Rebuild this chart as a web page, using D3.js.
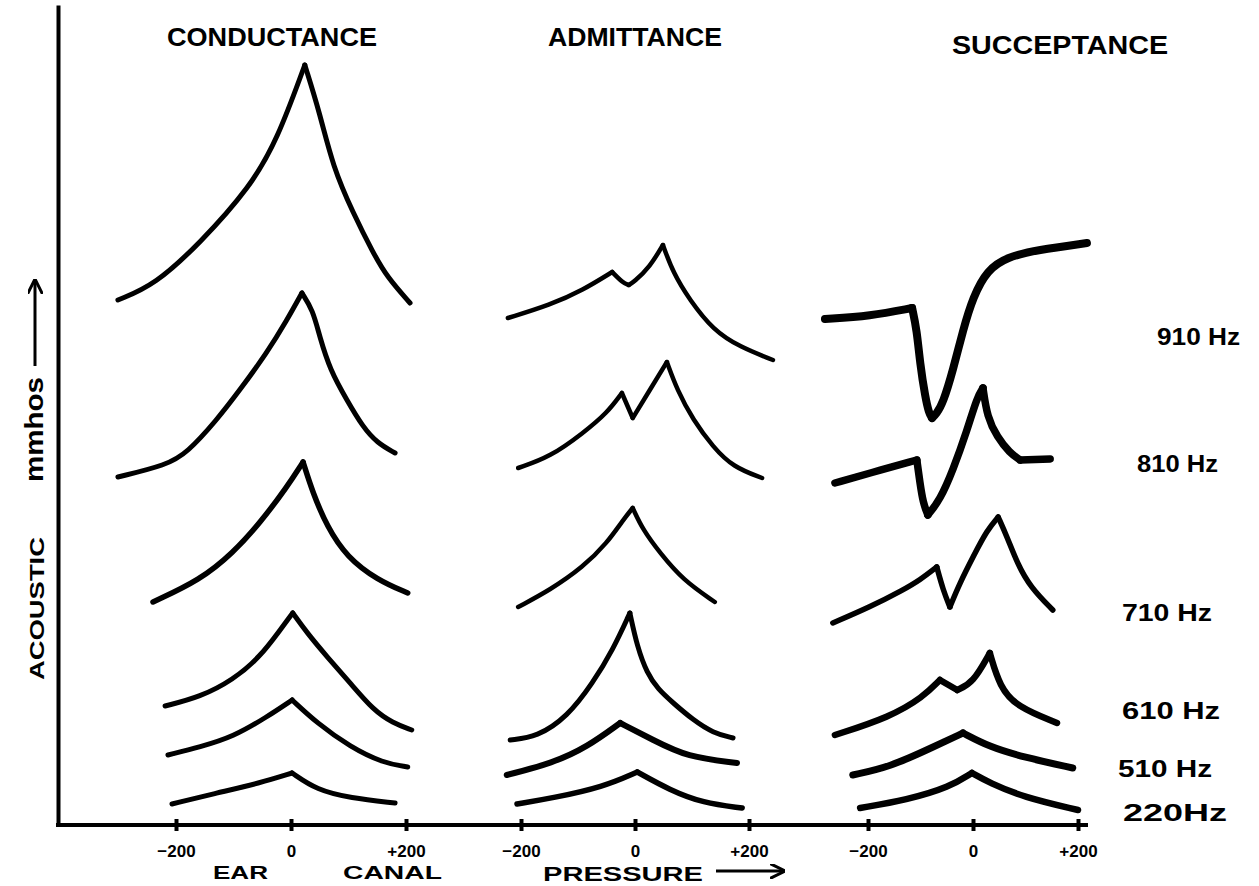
<!DOCTYPE html>
<html>
<head>
<meta charset="utf-8">
<script src="https://cdn.jsdelivr.net/npm/d3@7"></script>
<style>
  body { margin: 0; background: #fff; }
  svg text { font-family: "Liberation Sans", "DejaVu Sans", sans-serif; font-weight: bold; fill: #000; }
</style>
</head>
<body>
<svg id="chart" width="1259" height="886"></svg>
<script>
// panel titles, frequency labels, tick labels
var panelNames = ["CONDUCTANCE", "ADMITTANCE", "SUCCEPTANCE"];
var freqLabels = ["910 Hz", "810 Hz", "710 Hz", "610 Hz", "510 Hz", "220Hz"];
var pressureTicks = [-200, 0, 200];
var tickLabels = ["\u2212200", "0", "+200"];

// [ear canal pressure, acoustic mmhos (arbitrary units)]
var cond910 = [[-301,52.5],[-237,54],[-158,58.2],[-71,63.8],[-24,68.5],[24,76],[50,71.2],[73,65.8],[108,61.2],[143,57.2],[167,54.8],[207,52.2]];
var cond810 = [[-301,34.8],[-216,36],[-181,37.2],[-129,40.5],[-89,43.5],[-42,47.2],[-7,50.5],[19,53.2],[38,51.5],[50,48.8],[68,45.5],[97,42.5],[125,39.8],[150,38.2],[181,37.2]];
var cond710 = [[-240,22.3],[-158,24.5],[-101,27.2],[-54,30.2],[-7,33.8],[21,36.3],[38,33.2],[63,29.8],[97,26.8],[150,24.5],[203,23.2]];
var cond610 = [[-219,11.9],[-158,12.8],[-101,14.5],[-54,16.8],[-19,19.5],[3,21.2],[28,19.2],[63,16.8],[103,14.2],[143,11.5],[177,10.2],[210,9.5]];
var cond510 = [[-214,7],[-158,7.8],[-101,8.8],[-42,10.8],[2,12.5],[45,10.2],[103,7.8],[160,6.2],[203,5.8]];
var cond220 = [[-207,2.1],[-129,3.2],[-54,4.2],[2,5.2],[45,3.5],[103,2.7],[181,2.2]];

var adm910 = [[-223,50.7],[-149,52],[-91,53.5],[-40,55.3],[-21,54.2],[-11,54],[-2,54.3],[26,55.8],[49,58],[67,55.2],[96,52.5],[137,49.5],[184,47.8],[242,46.5]];
var adm810 = [[-205,35.7],[-149,36.8],[-91,39.2],[-49,41.2],[-23,43.2],[-4,40.7],[26,43.5],[56,46.3],[74,43.5],[102,40.5],[137,37.8],[172,35.8],[223,34.7]];
var adm710 = [[-205,21.8],[-149,23.5],[-91,25.8],[-49,28.2],[-21,30.5],[-4,31.7],[14,29.5],[44,27.2],[84,24.5],[140,22.3]];
var adm610 = [[-219,8.5],[-172,8.8],[-119,10.8],[-74,14.2],[-39,17.5],[-9,21.2],[4,17.8],[21,15.2],[40,13.6],[67,12.2],[102,10.5],[137,9.2],[172,8.7]];
var adm510 = [[-225,5],[-144,6.2],[-84,7.8],[-26,10.2],[32,8.5],[91,6.8],[179,6.2]];
var adm220 = [[-207,2.1],[-144,2.7],[-56,3.8],[4,5.3],[61,3.5],[119,2.2],[188,1.7]];

var sus910 = [[-282,50.6],[-196,50.9],[-116,51.7],[-107,49.5],[-101,46.2],[-91,42.8],[-84,41.2],[-78,40.7],[-70,41.1],[-57,42.2],[-38,45.5],[-19,49.5],[0,52.8],[27,55.5],[65,56.8],[122,57.5],[217,58.2]];
var sus810 = [[-263,34.2],[-196,35.2],[-107,36.5],[-101,34.2],[-95,32.2],[-86,31],[-63,32.5],[-38,35.5],[-11,39.5],[8,42.8],[19,43.7],[27,40.8],[46,38.8],[70,37.2],[90,36.5],[147,36.6]];
var sus710 = [[-267,20.2],[-196,21.8],[-133,23.5],[-101,24.5],[-69,25.8],[-57,23.5],[-44,21.8],[-25,24.2],[0,26.8],[27,29.5],[48,30.8],[65,28.8],[84,26.2],[109,23.8],[152,21.5]];
var sus610 = [[-263,9],[-158,10.8],[-95,12.8],[-63,14.5],[-30,13.5],[0,14.2],[32,17.2],[51,13.8],[84,11.8],[160,10.2]];
var sus510 = [[-229,5],[-158,5.8],[-76,7.8],[-19,9.2],[32,7.8],[95,6.8],[190,5.7]];
var sus220 = [[-215,1.7],[-126,2.5],[-44,3.8],[-2,5.2],[32,4.2],[95,2.8],[200,1.5]];

var panelSeries = [
  [cond910, cond810, cond710, cond610, cond510, cond220],
  [adm910, adm810, adm710, adm610, adm510, adm220],
  [sus910, sus810, sus710, sus610, sus510, sus220]
];

// ---- layout / style ----
var svg = d3.select("#chart");
var originX = 58, originY = 825;
var panelRanges = [[176, 406], [521, 749], [868, 1078]];
var titleX = [272, 635, 1060], titleY = [46, 46, 54], titleW = [210, 174, 216];
var strokeW = [[5, 5, 5.5, 5, 5, 5], [4.5, 4.5, 4.5, 5, 6, 5.5], [8, 7.5, 5.5, 6.5, 7, 6.5]];
var labelX = [1157, 1137, 1122, 1122, 1118, 1123];
var labelY = [345, 472, 621, 719, 777, 821];
var labelW = [83, 81, 90, 98, 94, 104];

var y = d3.scaleLinear().domain([0, 82]).range([originY, 5]);

// y axis (no ticks)
svg.append("g")
  .attr("transform", "translate(" + originX + ",0)")
  .call(d3.axisLeft(y).ticks(0).tickSizeOuter(0))
  .select(".domain").attr("stroke", "#000").attr("stroke-width", 4);

// x axis line spanning all panels
svg.append("line")
  .attr("x1", originX - 2).attr("x2", 1088)
  .attr("y1", originY).attr("y2", originY)
  .attr("stroke", "#000").attr("stroke-width", 4);

var line = d3.line()
  .x(function(d) { return d.x; })
  .y(function(d) { return y(d[1]); })
  .curve(d3.curveBasis);

// split a series at its peaks/dips so the cusps stay sharp
function runs(pts) {
  var out = [], cur = [pts[0]];
  for (var i = 1; i < pts.length; i++) {
    cur.push(pts[i]);
    if (i < pts.length - 1 && (pts[i][1] - pts[i-1][1]) * (pts[i+1][1] - pts[i][1]) < 0) {
      out.push(cur);
      cur = [pts[i]];
    }
  }
  out.push(cur);
  return out;
}

panelNames.forEach(function(name, pi) {
  var x = d3.scaleLinear().domain([-200, 200]).range(panelRanges[pi]);

  var axis = svg.append("g")
    .attr("transform", "translate(0," + originY + ")")
    .call(d3.axisBottom(x).tickValues(pressureTicks)
      .tickFormat(function(d, i) { return tickLabels[i]; })
      .tickSize(6).tickPadding(14));
  axis.select(".domain").remove();
  axis.selectAll(".tick line").attr("y1", -6).attr("y2", 6).attr("stroke", "#000").attr("stroke-width", 4);
  axis.selectAll(".tick text")
    .style("font-size", "17px").style("font-weight", "bold")
    .style("font-family", "'Liberation Sans', sans-serif").attr("fill", "#000");

  svg.append("text")
    .attr("x", titleX[pi]).attr("y", titleY[pi])
    .attr("text-anchor", "middle")
    .attr("textLength", titleW[pi]).attr("lengthAdjust", "spacingAndGlyphs")
    .style("font-size", "26px")
    .text(name);

  panelSeries[pi].forEach(function(series, si) {
    var pts = series.map(function(d) { var p = [d[0], d[1]]; p.x = x(d[0]); return p; });
    var g = svg.append("g").attr("class", "curve");
    runs(pts).forEach(function(seg) {
      g.append("path")
        .attr("d", line(seg))
        .attr("fill", "none")
        .attr("stroke", "#000")
        .attr("stroke-width", strokeW[pi][si])
        .attr("stroke-linecap", "round")
        .attr("stroke-linejoin", "round");
    });
  });
});

// frequency labels
freqLabels.forEach(function(lab, i) {
  svg.append("text")
    .attr("x", labelX[i]).attr("y", labelY[i])
    .attr("textLength", labelW[i]).attr("lengthAdjust", "spacingAndGlyphs")
    .style("font-size", "24px")
    .text(lab);
});

// arrow marker
svg.append("defs").append("marker")
  .attr("id", "arrow").attr("viewBox", "0 0 10 10")
  .attr("refX", 8).attr("refY", 5)
  .attr("markerWidth", 5).attr("markerHeight", 5)
  .attr("orient", "auto")
  .append("path").attr("d", "M0,0 L10,5 L0,10").attr("fill", "none")
  .attr("stroke", "#000").attr("stroke-width", 2);

// y axis title
svg.append("text")
  .attr("transform", "translate(44,680) rotate(-90)")
  .attr("textLength", 143).attr("lengthAdjust", "spacingAndGlyphs")
  .style("font-size", "20px")
  .text("ACOUSTIC");
svg.append("text")
  .attr("transform", "translate(43,482) rotate(-90)")
  .attr("textLength", 105).attr("lengthAdjust", "spacingAndGlyphs")
  .style("font-size", "26px")
  .text("mmhos");
svg.append("line")
  .attr("x1", 35).attr("x2", 35).attr("y1", 366).attr("y2", 282)
  .attr("stroke", "#000").attr("stroke-width", 3)
  .attr("marker-end", "url(#arrow)");

// x axis title
svg.append("text").attr("x", 213).attr("y", 879)
  .attr("textLength", 55).attr("lengthAdjust", "spacingAndGlyphs")
  .style("font-size", "19px").text("EAR");
svg.append("text").attr("x", 343).attr("y", 879)
  .attr("textLength", 99).attr("lengthAdjust", "spacingAndGlyphs")
  .style("font-size", "19px").text("CANAL");
svg.append("text").attr("x", 543).attr("y", 881)
  .attr("textLength", 160).attr("lengthAdjust", "spacingAndGlyphs")
  .style("font-size", "20px").text("PRESSURE");
svg.append("line")
  .attr("x1", 716).attr("x2", 782).attr("y1", 871).attr("y2", 871)
  .attr("stroke", "#000").attr("stroke-width", 3)
  .attr("marker-end", "url(#arrow)");
</script>
</body>
</html>
